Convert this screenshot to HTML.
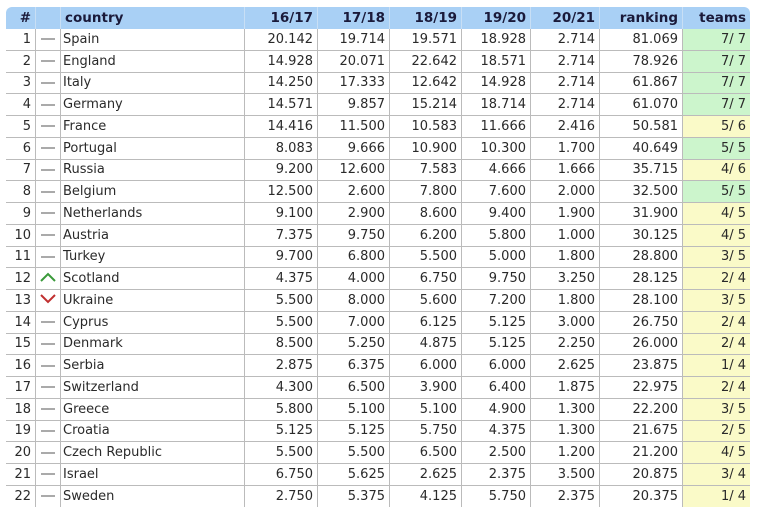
<!DOCTYPE html>
<html><head><meta charset="utf-8"><style>
body{margin:0;background:#fff;width:760px;height:517px;overflow:hidden;font-family:"DejaVu Sans","Liberation Sans",sans-serif;}
table{position:absolute;left:6px;top:7px;border-collapse:separate;border-spacing:0;table-layout:fixed;width:744px;font-size:13px;color:#2a2a2a;}
th{background:#a9d0f5;color:#1a1a3a;font-weight:bold;height:22px;padding:0 4px;text-align:right;border-right:1px solid #c8dff5;font-size:13.5px}
th:first-child{border-top-left-radius:6px}
th:last-child{border-top-right-radius:6px;border-right:none}
th.l{text-align:left}
td{height:20.75px;padding:0 4px;text-align:right;border-bottom:1px solid #bbb;border-right:1px solid #bbb;white-space:nowrap}
td.l{text-align:left;padding-left:2px}
td.i{text-align:center;padding:0}
td:last-child{border-right:none}
.g{background:#ccf5cc}.y{background:#fafac8}
.d{display:inline-block;width:14px;height:2px;background:#aaa;vertical-align:middle}
</style></head><body>
<table>
<colgroup><col style="width:30px"><col style="width:25px"><col style="width:184px"><col style="width:73px"><col style="width:72px"><col style="width:72px"><col style="width:69px"><col style="width:69px"><col style="width:83px"><col style="width:67px"></colgroup>
<tr><th>#</th><th></th><th class="l">country</th><th>16/17</th><th>17/18</th><th>18/19</th><th>19/20</th><th>20/21</th><th>ranking</th><th>teams</th></tr>
<tr><td>1</td><td class="i"><span class="d"></span></td><td class="l">Spain</td><td>20.142</td><td>19.714</td><td>19.571</td><td>18.928</td><td>2.714</td><td>81.069</td><td class="g">7/ 7</td></tr>
<tr><td>2</td><td class="i"><span class="d"></span></td><td class="l">England</td><td>14.928</td><td>20.071</td><td>22.642</td><td>18.571</td><td>2.714</td><td>78.926</td><td class="g">7/ 7</td></tr>
<tr><td>3</td><td class="i"><span class="d"></span></td><td class="l">Italy</td><td>14.250</td><td>17.333</td><td>12.642</td><td>14.928</td><td>2.714</td><td>61.867</td><td class="g">7/ 7</td></tr>
<tr><td>4</td><td class="i"><span class="d"></span></td><td class="l">Germany</td><td>14.571</td><td>9.857</td><td>15.214</td><td>18.714</td><td>2.714</td><td>61.070</td><td class="g">7/ 7</td></tr>
<tr><td>5</td><td class="i"><span class="d"></span></td><td class="l">France</td><td>14.416</td><td>11.500</td><td>10.583</td><td>11.666</td><td>2.416</td><td>50.581</td><td class="y">5/ 6</td></tr>
<tr><td>6</td><td class="i"><span class="d"></span></td><td class="l">Portugal</td><td>8.083</td><td>9.666</td><td>10.900</td><td>10.300</td><td>1.700</td><td>40.649</td><td class="g">5/ 5</td></tr>
<tr><td>7</td><td class="i"><span class="d"></span></td><td class="l">Russia</td><td>9.200</td><td>12.600</td><td>7.583</td><td>4.666</td><td>1.666</td><td>35.715</td><td class="y">4/ 6</td></tr>
<tr><td>8</td><td class="i"><span class="d"></span></td><td class="l">Belgium</td><td>12.500</td><td>2.600</td><td>7.800</td><td>7.600</td><td>2.000</td><td>32.500</td><td class="g">5/ 5</td></tr>
<tr><td>9</td><td class="i"><span class="d"></span></td><td class="l">Netherlands</td><td>9.100</td><td>2.900</td><td>8.600</td><td>9.400</td><td>1.900</td><td>31.900</td><td class="y">4/ 5</td></tr>
<tr><td>10</td><td class="i"><span class="d"></span></td><td class="l">Austria</td><td>7.375</td><td>9.750</td><td>6.200</td><td>5.800</td><td>1.000</td><td>30.125</td><td class="y">4/ 5</td></tr>
<tr><td>11</td><td class="i"><span class="d"></span></td><td class="l">Turkey</td><td>9.700</td><td>6.800</td><td>5.500</td><td>5.000</td><td>1.800</td><td>28.800</td><td class="y">3/ 5</td></tr>
<tr><td>12</td><td class="i"><svg width="16" height="10"><polyline points="1,9 8,2 15,9" fill="none" stroke="#3a9a3a" stroke-width="2"/></svg></td><td class="l">Scotland</td><td>4.375</td><td>4.000</td><td>6.750</td><td>9.750</td><td>3.250</td><td>28.125</td><td class="y">2/ 4</td></tr>
<tr><td>13</td><td class="i"><svg width="16" height="10"><polyline points="1,1 8,8 15,1" fill="none" stroke="#c03030" stroke-width="2"/></svg></td><td class="l">Ukraine</td><td>5.500</td><td>8.000</td><td>5.600</td><td>7.200</td><td>1.800</td><td>28.100</td><td class="y">3/ 5</td></tr>
<tr><td>14</td><td class="i"><span class="d"></span></td><td class="l">Cyprus</td><td>5.500</td><td>7.000</td><td>6.125</td><td>5.125</td><td>3.000</td><td>26.750</td><td class="y">2/ 4</td></tr>
<tr><td>15</td><td class="i"><span class="d"></span></td><td class="l">Denmark</td><td>8.500</td><td>5.250</td><td>4.875</td><td>5.125</td><td>2.250</td><td>26.000</td><td class="y">2/ 4</td></tr>
<tr><td>16</td><td class="i"><span class="d"></span></td><td class="l">Serbia</td><td>2.875</td><td>6.375</td><td>6.000</td><td>6.000</td><td>2.625</td><td>23.875</td><td class="y">1/ 4</td></tr>
<tr><td>17</td><td class="i"><span class="d"></span></td><td class="l">Switzerland</td><td>4.300</td><td>6.500</td><td>3.900</td><td>6.400</td><td>1.875</td><td>22.975</td><td class="y">2/ 4</td></tr>
<tr><td>18</td><td class="i"><span class="d"></span></td><td class="l">Greece</td><td>5.800</td><td>5.100</td><td>5.100</td><td>4.900</td><td>1.300</td><td>22.200</td><td class="y">3/ 5</td></tr>
<tr><td>19</td><td class="i"><span class="d"></span></td><td class="l">Croatia</td><td>5.125</td><td>5.125</td><td>5.750</td><td>4.375</td><td>1.300</td><td>21.675</td><td class="y">2/ 5</td></tr>
<tr><td>20</td><td class="i"><span class="d"></span></td><td class="l">Czech Republic</td><td>5.500</td><td>5.500</td><td>6.500</td><td>2.500</td><td>1.200</td><td>21.200</td><td class="y">4/ 5</td></tr>
<tr><td>21</td><td class="i"><span class="d"></span></td><td class="l">Israel</td><td>6.750</td><td>5.625</td><td>2.625</td><td>2.375</td><td>3.500</td><td>20.875</td><td class="y">3/ 4</td></tr>
<tr><td style="border-bottom:none">22</td><td class="i" style="border-bottom:none"><span class="d"></span></td><td class="l" style="border-bottom:none">Sweden</td><td style="border-bottom:none">2.750</td><td style="border-bottom:none">5.375</td><td style="border-bottom:none">4.125</td><td style="border-bottom:none">5.750</td><td style="border-bottom:none">2.375</td><td style="border-bottom:none">20.375</td><td class="y" style="border-bottom:none">1/ 4</td></tr>
</table>
</body></html>
